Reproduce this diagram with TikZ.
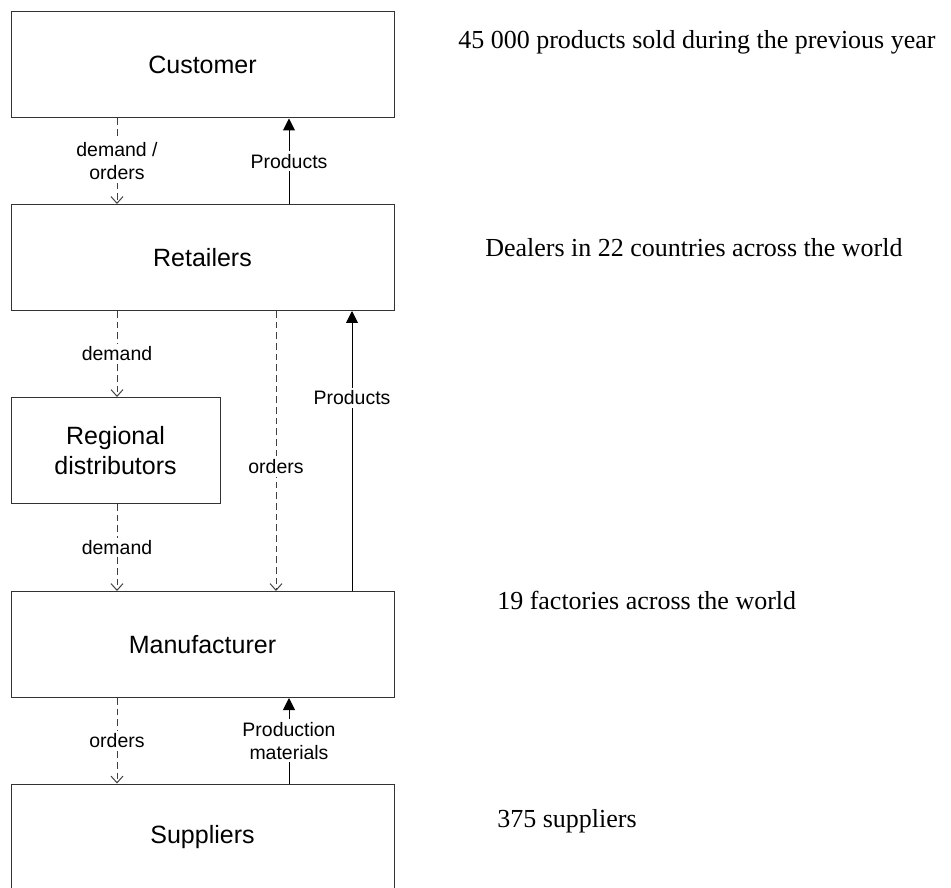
\documentclass[tikz,border=0pt]{standalone}
\usepackage{fontspec}
\setmainfont{Liberation Serif}
\setsansfont{Liberation Sans}
\usetikzlibrary{arrows.meta}
\begin{document}
\begin{tikzpicture}[x=0.75pt,y=-0.75pt,
  box/.style={draw=black!80, line width=0.75pt, rectangle, inner sep=0pt,
    minimum width=287.25pt, minimum height=79.5pt,
    font=\sffamily\fontsize{18.75}{22}\selectfont, align=center},
  smallbox/.style={box, minimum width=156.75pt},
  lbl/.style={fill=white, inner sep=2pt, align=center,
    font=\sffamily\fontsize{14.6}{17.25}\selectfont},
  dsh/.style={draw=black!75, line width=0.75pt, dash pattern=on 5pt off 3pt,
    -{Straight Barb[length=5pt,width=9pt,line width=0.75pt]}},
  sol/.style={draw=black, line width=0.75pt,
    -{Triangle[length=9pt,width=9pt]}},
  rt/.style={inner sep=0pt, anchor=base west, font=\fontsize{19.5}{23}\selectfont}]
\useasboundingbox (0,0) rectangle (951,888);

\node[box] (cust) at (202.5,65) {Customer};
\node[box] (ret) at (202.5,257.5) {Retailers};
\node[smallbox] (reg) at (115.5,450.5) {Regional\\distributors};
\node[box] (man) at (202.5,644.5) {Manufacturer};
\node[box] (sup) at (202.5,837) {Suppliers};

\coordinate (xa) at (117,0);
\coordinate (xb) at (289,0);
\coordinate (xc) at (276,0);
\coordinate (xd) at (352,0);

\draw[dsh] (cust.south -| xa) -- node[lbl]{demand /\\orders} (ret.north -| xa);
\draw[sol] (ret.north -| xb) -- node[lbl]{Products} (cust.south -| xb);
\draw[dsh] (ret.south -| xa) -- node[lbl]{demand} (reg.north -| xa);
\draw[dsh] (ret.south -| xc) -- node[lbl,pos=0.557]{orders} (man.north -| xc);
\draw[sol] (man.north -| xd) -- node[lbl,pos=0.69]{Products} (ret.south -| xd);
\draw[dsh] (reg.south -| xa) -- node[lbl]{demand} (man.north -| xa);
\draw[dsh] (man.south -| xa) -- node[lbl]{orders} (sup.north -| xa);
\draw[sol] (sup.north -| xb) -- node[lbl]{Production\\materials} (man.south -| xb);

\node[rt] (t1) at (458,49) {45 000 products sold during the previous year};
\node[rt] (t2) at (485,257) {Dealers in 22 countries across the world};
\node[rt] (t3) at (497,609) {19 factories across the world};
\node[rt] (t4) at (497,827) {375 suppliers};
\end{tikzpicture}
\end{document}
